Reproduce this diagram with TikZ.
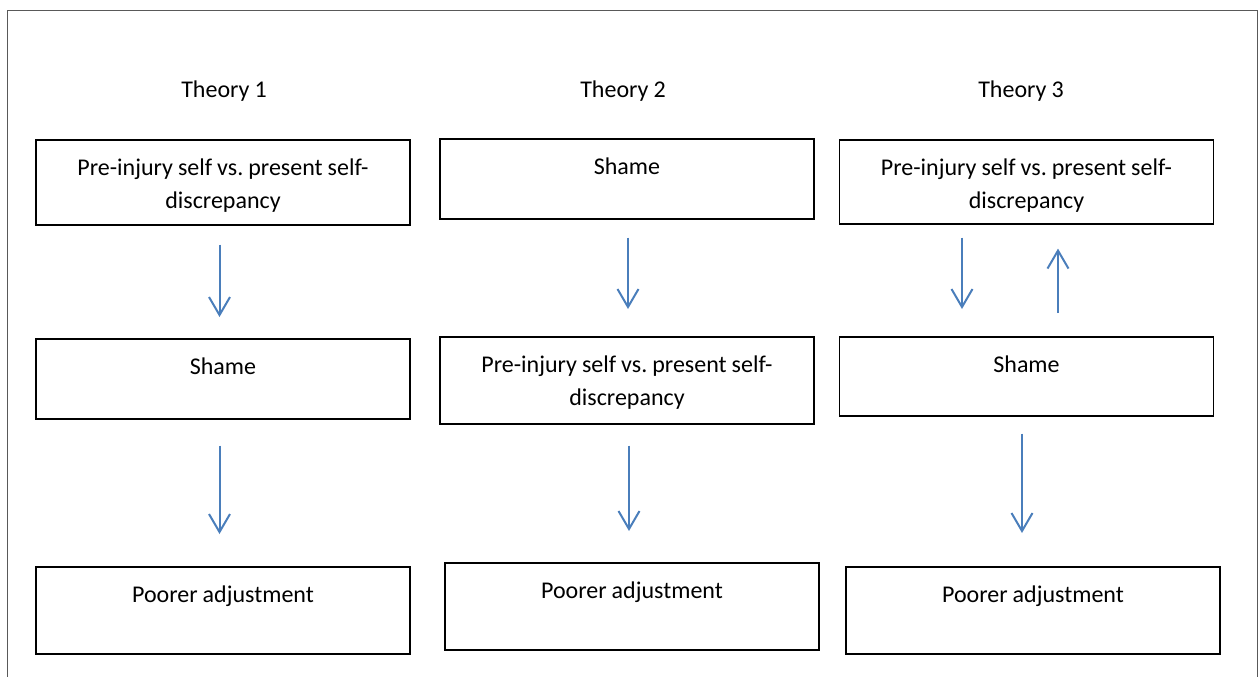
\documentclass[tikz,border=0pt]{standalone}
\usepackage{fontspec}
\setmainfont{Carlito}
\usetikzlibrary{arrows.meta}
\definecolor{arrowblue}{RGB}{74,126,187}
\frenchspacing
\begin{document}
\begin{tikzpicture}[x=1pt,y=-1pt,
        font=\fontsize{24}{33}\selectfont,
        execute at begin node={\spaceskip=5pt\relax},
        box/.style={draw,line width=1.6pt,inner sep=0pt,minimum width=374pt,
            text width=360pt,align=center,text height=35.5pt,anchor=north},
        title/.style={anchor=base},
        arr/.style={draw=arrowblue,line width=2pt,
            -{Straight Barb[length=18pt,width=21pt,line width=2pt]}}]
      \useasboundingbox (0,0) rectangle (1259,677);
      \draw[line width=1pt,black!65] (7,677) -- (7,11) -- (1257,11) -- (1257,677);

      \node[title] (t1) at (224,98) {Theory 1};
      \node[title] (t2) at (623,98) {Theory 2};
      \node[title] (t3) at (1021,98) {Theory 3};

      \node[box,text depth=49.5pt] (pre1) at (223,139) {Pre-injury self vs. present self-\\discrepancy};
      \node[box,text depth=44.5pt] (shame1) at (223,338) {Shame};
      \node[box,text depth=51.5pt] (adj1) at (223,566) {Poorer adjustment};

      \node[box,text depth=44.5pt] (shame2) at (627,138) {Shame};
      \node[box,text depth=51.5pt] (pre2) at (627,336) {Pre-injury self vs. present self-\\discrepancy};
      \node[box,text depth=51.5pt] (adj2) at (632,562) {Poorer adjustment};

      \node[box,text depth=48.5pt] (pre3) at (1026.5,139) {Pre-injury self vs. present self-\\discrepancy};
      \node[box,text depth=43.5pt] (shame3) at (1026.5,336) {Shame};
      \node[box,text depth=51.5pt] (adj3) at (1033,566) {Poorer adjustment};

      \draw[arr] ([xshift=-3.5pt,yshift=-19pt]pre1.south) -- ([xshift=-3.5pt,yshift=21pt]shame1.north);
      \draw[arr] ([xshift=-3.5pt,yshift=-26pt]shame1.south) -- ([xshift=-3.5pt,yshift=32pt]adj1.north);
      \draw[arr] ([xshift=1pt,yshift=-18pt]shame2.south) -- ([xshift=1pt,yshift=27pt]pre2.north);
      \draw[arr] ([xshift=2pt,yshift=-21pt]pre2.south) -- ([xshift=-3pt,yshift=31pt]adj2.north);
      \draw[arr] ([xshift=-64.5pt,yshift=-13pt]pre3.south) -- ([xshift=-64.5pt,yshift=27pt]shame3.north);
      \draw[arr] ([xshift=31.5pt,yshift=23pt]shame3.north) -- ([xshift=31.5pt,yshift=-24pt]pre3.south);
      \draw[arr] ([xshift=-4.5pt,yshift=-17pt]shame3.south) -- ([xshift=-11pt,yshift=33pt]adj3.north);
    \end{tikzpicture}
\end{document}
